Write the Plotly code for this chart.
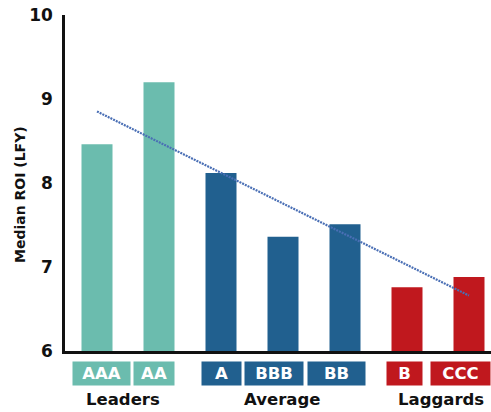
import numpy as np
import plotly.graph_objects as go

categories = ["AAA", "AA", "A", "BBB", "BB", "B", "CCC"]
groups = ["Leaders", "Leaders", "Average", "Average", "Average", "Laggards", "Laggards"]
roi = [8.46, 9.20, 8.12, 7.36, 7.51, 6.76, 6.88]
group_names = ["Leaders", "Average", "Laggards"]
y_ticks = [6, 7, 8, 9, 10]

group_colors = {"Leaders": "#6bbcae", "Average": "#21608f", "Laggards": "#c0181e"}
colors = [group_colors[g] for g in groups]
xs = list(range(len(categories)))

# linear trend fitted on the data
slope, intercept = np.polyfit(xs, roi, 1)
trend_y = [slope * x + intercept for x in xs]

FONT = "DejaVu Sans"

fig = go.Figure()
fig.add_trace(go.Bar(x=xs, y=roi, marker=dict(color=colors, line=dict(width=0)),
                     width=0.5, showlegend=False, hoverinfo="y"))
fig.add_trace(go.Scatter(x=xs, y=trend_y, mode="lines",
                         line=dict(color="#4a6fb5", width=2.2, dash="2px,1px"),
                         showlegend=False))

# pixel geometry helpers (layout only): bar spacing 62px, first bar centre at 97px
px_per_cat = 62.0
x0_px = 97.0
def px_to_x(px):
    return (px - x0_px) / px_per_cat

# category label boxes (centre px, width px)
box_layout = [(101.5, 57), (154, 40), (221.5, 39), (274, 58), (336.5, 57), (404.5, 35), (460.5, 59)]
for cat, g, (cpx, wpx) in zip(categories, groups, box_layout):
    fig.add_annotation(x=px_to_x(cpx), xref="x", y=0, yref="paper", yanchor="top",
                       yshift=-10, text=cat, showarrow=False,
                       width=wpx, height=23, borderpad=0, bgcolor=group_colors[g],
                       font=dict(family=FONT, size=16.5, color="white", weight="bold"))

group_label_px = {"Leaders": 123, "Average": 282, "Laggards": 441}
for g in group_names:
    fig.add_annotation(x=px_to_x(group_label_px[g]), xref="x", y=0, yref="paper",
                       yanchor="top", yshift=-37, text=g, showarrow=False,
                       font=dict(family=FONT, size=16.5, color="#111111", weight="bold"))

fig.add_annotation(x=0, xref="paper", xanchor="center", xshift=20 - 65,
                   y=0.5, yref="paper", yanchor="middle", yshift=-(195 - 183),
                   text="Median ROI (LFY)", textangle=-90, showarrow=False,
                   font=dict(family=FONT, size=14, color="#111111", weight="bold"))

fig.update_layout(
    width=491, height=412,
    margin=dict(l=65, r=0, t=15, b=61, autoexpand=False),
    plot_bgcolor="white", paper_bgcolor="white",
    font=dict(family=FONT, color="#111111"),
    xaxis=dict(range=[px_to_x(65), px_to_x(491)], showticklabels=False, ticks="",
               showgrid=False, zeroline=False, showline=True, linecolor="#111111",
               linewidth=2.5, fixedrange=True),
    yaxis=dict(range=[6, 10], tickvals=y_ticks, ticktext=[str(v) for v in y_ticks],
               showgrid=False, zeroline=False, showline=True, linecolor="#111111",
               linewidth=2.5, ticks="", ticklabelstandoff=6, automargin=False,
               ticklabeloverflow="allow",
               tickfont=dict(family=FONT, size=17, color="#111111", weight="bold")),
)

fig.write_html("out.html", config={"displayModeBar": False},
               post_script="document.body.style.margin='0px';document.body.style.padding='0px';")
